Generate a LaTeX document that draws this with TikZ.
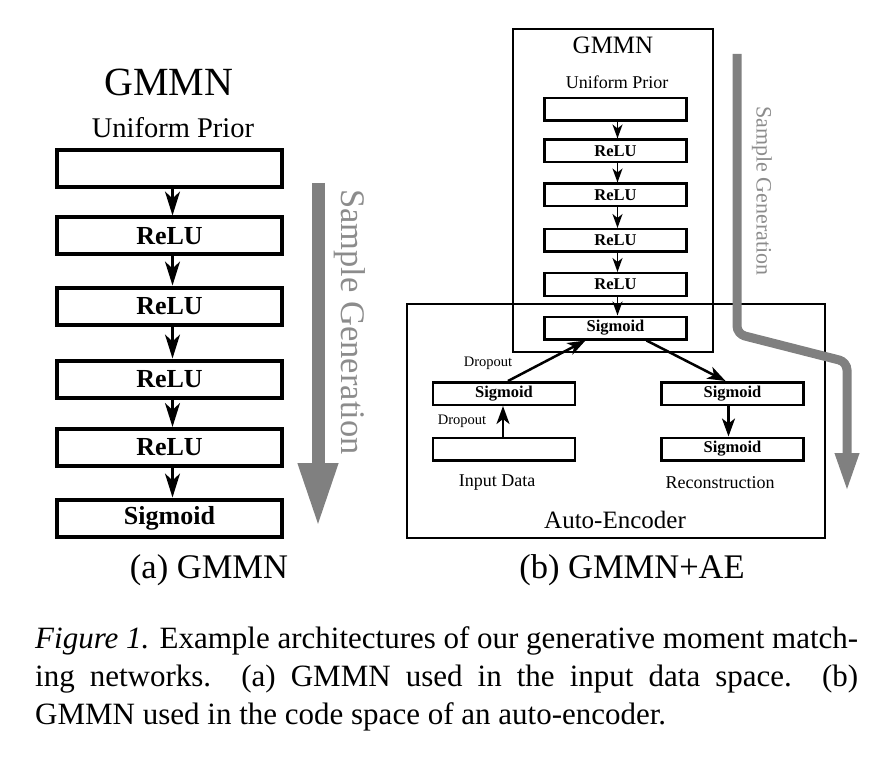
\documentclass[tikz,border=0pt]{standalone}
\usepackage{fontspec}
\setmainfont{Liberation Serif}
\usetikzlibrary{arrows.meta}
\begin{document}
\begin{tikzpicture}[x=1pt,y=-1pt,
  fs/.style={font=\fontsize{#1}{#1}\selectfont},
  lbox/.style={draw, line width=4pt, minimum width=225pt, minimum height=37pt, inner sep=0pt, font=\fontsize{26}{26}\selectfont\bfseries},
  rbox/.style={draw, line width=2.5pt, minimum width=142pt, minimum height=22.5pt, inner sep=0pt, font=\fontsize{16.5}{16.5}\selectfont\bfseries},
  larr/.style={line width=2.5pt, -{Stealth[length=24pt,width=15pt,inset=7pt]}},
  rarr/.style={line width=1.5pt, -{Stealth[length=14pt,width=10pt,inset=4pt]}},
  aarr/.style={line width=2.5pt, -{Stealth[length=18pt,width=13pt,inset=5pt]}},
  cont/.style={draw, line width=1.5pt, inner sep=0pt},
  gtext/.style={text=black!45, rotate=-90, inner sep=0pt},
  plain/.style={inner sep=0pt}]
\useasboundingbox (0,0) rectangle (883,767);

% ---------- (a) GMMN ----------
\node[plain, fs=40] (ltitle) at (169,82) {GMMN};
\node[plain, fs=28.5] (lprior) at (173,128) {Uniform Prior};
\node[lbox] (l1) at (169.5,169) {};
\node[lbox] (l2) at (169.5,236) {ReLU};
\node[lbox] (l3) at (169.5,306) {ReLU};
\node[lbox] (l4) at (169.5,379) {ReLU};
\node[lbox] (l5) at (169.5,447.5) {ReLU};
\node[lbox] (l6) at (169.5,518) {Sigmoid};
\foreach \a/\b in {l1/l2,l2/l3,l3/l4,l4/l5,l5/l6}
  \draw[larr] ([xshift=3pt]\a.south) -- ([xshift=3pt]\b.north);

\coordinate (lgs) at (318,183);
\coordinate (lge) at (318,527);
\draw[black!50, line width=13pt, -{Triangle[length=64pt,width=37pt]}] (lgs) -- (lge);
\node[gtext, fs=34.5] (lsg) at (350,322) {Sample Generation};

\node[plain, fs=34.5] (lcap) at (209,570) {(a) GMMN};

% ---------- (b) GMMN+AE ----------
\node[cont, minimum width=200pt, minimum height=323pt] (gbox) at (613,190.5) {};
\node[cont, minimum width=418pt, minimum height=234pt] (aebox) at (616,421) {};

\node[plain, fs=25] (rtitle) at (613,45) {GMMN};
\node[plain, fs=18] (rprior) at (617,82) {Uniform Prior};
\node[rbox] (r1) at (615.5,109.5) {};
\node[rbox] (r2) at (615.5,151) {ReLU};
\node[rbox] (r3) at (615.5,195) {ReLU};
\node[rbox] (r4) at (615.5,240.5) {ReLU};
\node[rbox] (r5) at (615.5,284.5) {ReLU};
\node[rbox] (r6) at (615.5,328) {Sigmoid};
\foreach \a/\b in {r1/r2,r2/r3,r3/r4,r4/r5,r5/r6}
  \draw[rarr] ([xshift=2pt]\a.south) -- ([xshift=2pt]\b.north);

\node[rbox] (in) at (504,449) {};
\node[rbox] (es) at (504,393.5) {Sigmoid};
\node[rbox] (d1) at (732.5,393.5) {Sigmoid};
\node[rbox] (d2) at (732.5,449) {Sigmoid};

\draw[aarr] ([xshift=-1pt]in.north) -- ([xshift=-1pt]es.south);
\draw[aarr] ([xshift=4pt]es.north) -- ([xshift=-30pt]r6.south);
\draw[aarr] ([xshift=31pt]r6.south) -- ([xshift=-7pt]d1.north);
\draw[aarr] ([xshift=-4pt]d1.south) -- ([xshift=-4pt]d2.north);

\node[plain, fs=14.5] (do1) at (488,363) {Dropout};
\node[plain, fs=14.5] (do2) at (462,421) {Dropout};
\node[plain, fs=18] (indata) at (497,483) {Input Data};
\node[plain, fs=18] (recon) at (720,483) {Reconstruction};
\node[plain, fs=25] (aelab) at (615,520) {Auto-Encoder};

\coordinate (rg1) at (737,54);
\coordinate (rg2) at (737,334);
\coordinate (rg3) at (847,362);
\coordinate (rg4) at (847,492);
\draw[black!50, line width=9pt, rounded corners=8pt, -{Triangle[length=39pt,width=22pt]}] (rg1) -- (rg2) -- (rg3) -- (rg4);
\node[gtext, fs=22] (rsg) at (762,191) {Sample Generation};

\node[plain, fs=34.5] (rcap) at (632,570) {(b) GMMN+AE};

% ---------- caption ----------
\node[anchor=base west, inner sep=0pt, fs=31] (cap1) at (35,648) {\makebox[823pt][s]{\textit{Figure 1.} Example architectures of our generative moment match-}};
\node[anchor=base west, inner sep=0pt, fs=31] (cap2) at (35,686) {\makebox[823pt][s]{ing networks.\ \ (a) GMMN used in the input data space.\ \ (b)}};
\node[anchor=base west, inner sep=0pt, fs=31] (cap3) at (35,724) {GMMN used in the code space of an auto-encoder.};
\end{tikzpicture}
\end{document}
